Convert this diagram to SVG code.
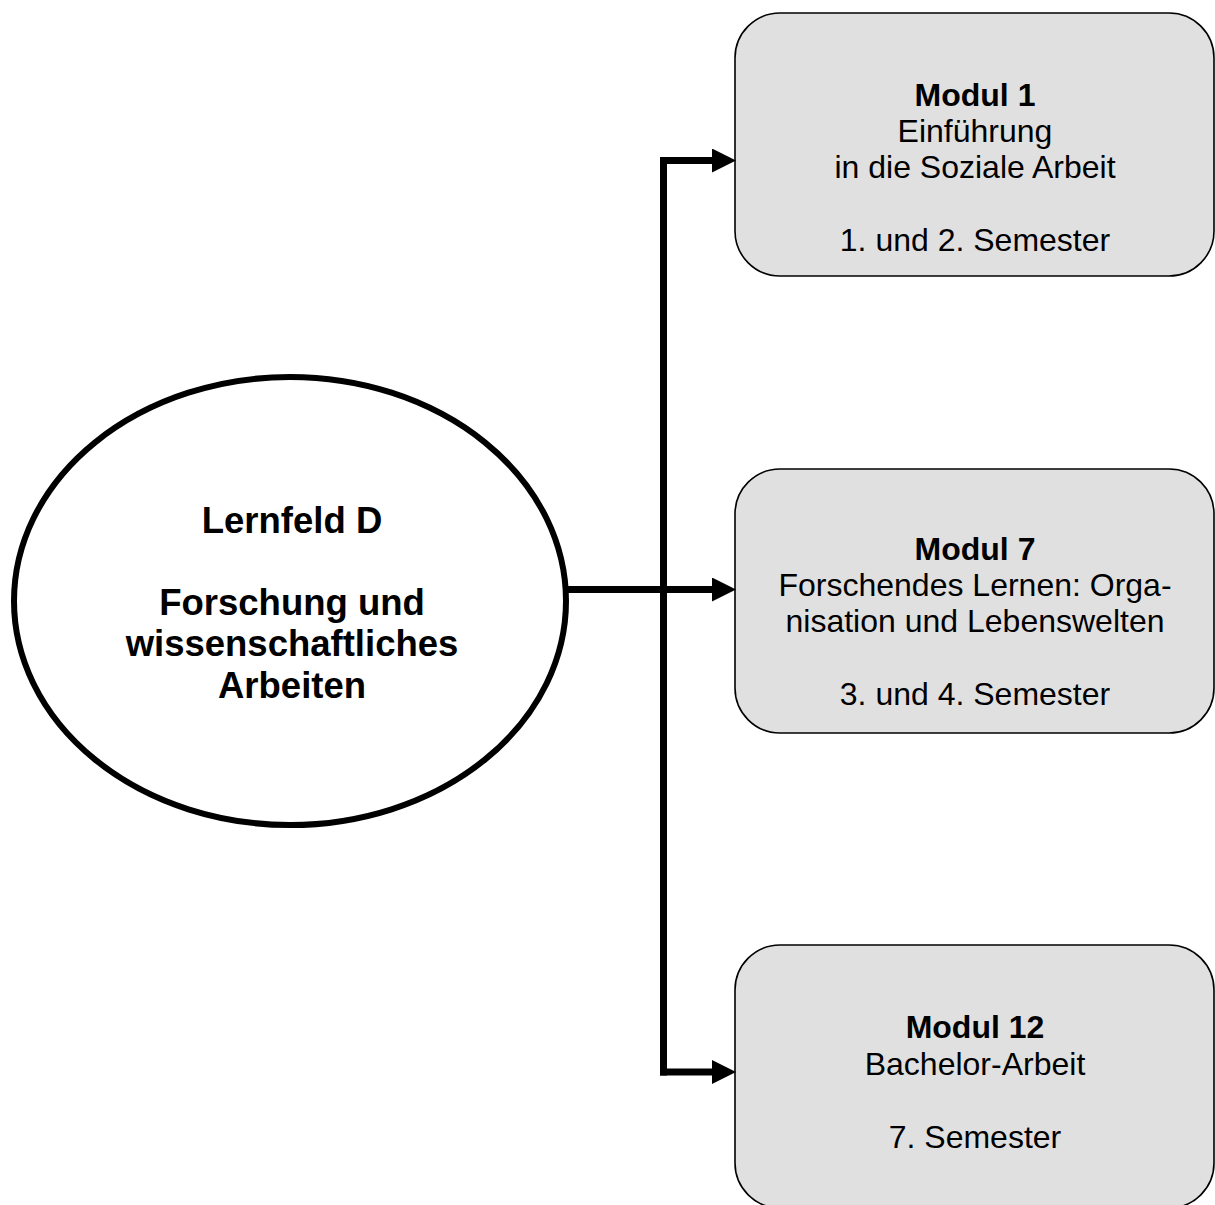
<svg xmlns="http://www.w3.org/2000/svg" width="1215" height="1205" viewBox="0 0 1215 1205">
<style>
.box{fill:#e0e0e0;stroke:#000;stroke-width:1.6}
.t{font-family:"Liberation Sans",Arial,sans-serif;font-size:32px;text-anchor:middle;fill:#000}
.b{font-weight:bold}
.e{font-family:"Liberation Sans",Arial,sans-serif;font-size:36.5px;font-weight:bold;text-anchor:middle;fill:#000}
.c{fill:none;stroke:#000;stroke-width:7}
</style>
<defs>
<marker id="ah" markerUnits="userSpaceOnUse" markerWidth="24" markerHeight="24" refX="0" refY="12" orient="auto" viewBox="0 0 24 24">
<path d="M0,0 L24,12 L0,24 Z" fill="#000"/>
</marker>
</defs>
<rect width="1215" height="1205" fill="#fff"/>
<g id="lernfeld">
<ellipse cx="290" cy="601" rx="276" ry="224" fill="#fff" stroke="#000" stroke-width="6"/>
<text class="e" x="292" y="533">Lernfeld D</text>
<text class="e" x="292" y="615">Forschung und</text>
<text class="e" x="292" y="656">wissenschaftliches</text>
<text class="e" x="292" y="698">Arbeiten</text>
</g>
<g id="modul1">
<rect class="box" x="735" y="13" width="479" height="263" rx="45" ry="45"/>
<text class="t b" x="975" y="106">Modul 1</text>
<text class="t" x="975" y="142">Einführung</text>
<text class="t" x="975" y="178">in die Soziale Arbeit</text>
<text class="t" x="975" y="251">1. und 2. Semester</text>
</g>
<g id="modul7">
<rect class="box" x="735" y="469" width="479" height="264" rx="45" ry="45"/>
<text class="t b" x="975" y="560">Modul 7</text>
<text class="t" x="975" y="596">Forschendes Lernen: Orga-</text>
<text class="t" x="975" y="632">nisation und Lebenswelten</text>
<text class="t" x="975" y="705">3. und 4. Semester</text>
</g>
<g id="modul12">
<rect class="box" x="735" y="945" width="479" height="263" rx="45" ry="45"/>
<text class="t b" x="975" y="1038">Modul 12</text>
<text class="t" x="975" y="1075">Bachelor-Arbeit</text>
<text class="t" x="975" y="1148">7. Semester</text>
</g>
<g id="connectors">
<path class="c" d="M663.5,160.5 V1075.5"/>
<path class="c" d="M660,160.5 H712" marker-end="url(#ah)"/>
<path class="c" d="M568,589.5 H712" marker-end="url(#ah)"/>
<path class="c" d="M660,1072 H712" marker-end="url(#ah)"/>
</g>
</svg>
